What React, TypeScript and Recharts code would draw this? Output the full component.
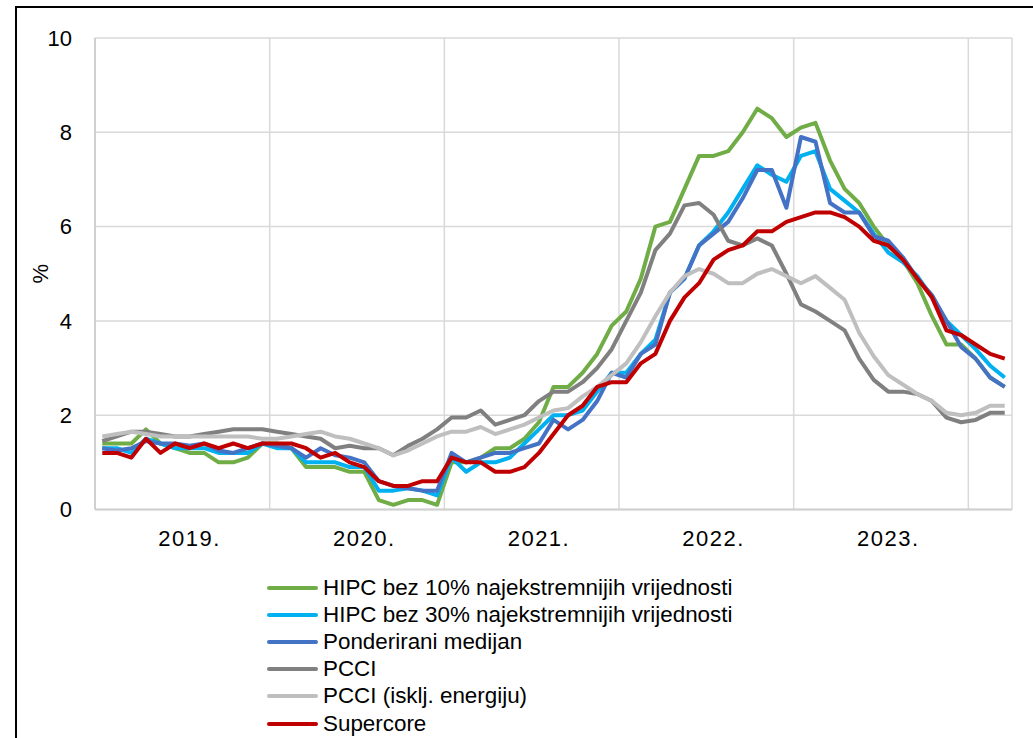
import React from "react";
import { LineChart, Line, XAxis, YAxis, CartesianGrid } from "recharts";

// monthly, Jan 2019 - Mar 2024 (y/y, %)
const yearLabels = ["2019.", "2020.", "2021.", "2022.", "2023."];

const hipc10 = [
  1.4, 1.4, 1.4, 1.7, 1.4, 1.3, 1.2, 1.2, 1.0, 1.0, 1.1, 1.4,
  1.4, 1.3, 0.9, 0.9, 0.9, 0.8, 0.8, 0.2, 0.1, 0.2, 0.2, 0.1,
  1.0, 1.0, 1.1, 1.3, 1.3, 1.5, 1.85, 2.6, 2.6, 2.9, 3.3, 3.9,
  4.2, 4.9, 6.0, 6.1, 6.8, 7.5, 7.5, 7.6, 8.0, 8.5, 8.3, 7.9,
  8.1, 8.2, 7.4, 6.8, 6.5, 6.0, 5.6, 5.3, 4.8, 4.1, 3.5, 3.5,
  3.2, 2.8, 2.6,
];
const hipc30 = [
  1.3, 1.3, 1.2, 1.5, 1.4, 1.3, 1.3, 1.3, 1.2, 1.2, 1.2, 1.4,
  1.3, 1.3, 1.0, 1.0, 1.0, 0.9, 0.9, 0.4, 0.4, 0.45, 0.4, 0.3,
  1.1, 0.8, 1.0, 1.0, 1.1, 1.4, 1.7, 2.0, 2.0, 2.1, 2.5, 2.9,
  2.9, 3.3, 3.6, 4.6, 4.9, 5.6, 5.9, 6.3, 6.8, 7.3, 7.1, 6.95,
  7.5, 7.6, 6.8, 6.55, 6.3, 5.85, 5.45, 5.25, 4.95, 4.5, 4.0, 3.7,
  3.4, 3.05, 2.8,
];
const median = [
  1.3, 1.25, 1.3, 1.45, 1.4, 1.4, 1.35, 1.4, 1.25, 1.2, 1.3, 1.4,
  1.35, 1.3, 1.1, 1.3, 1.15, 1.1, 1.0, 0.6, 0.5, 0.45, 0.4, 0.4,
  1.2, 1.0, 1.1, 1.2, 1.2, 1.3, 1.4, 1.9, 1.7, 1.9, 2.3, 2.9,
  2.8, 3.3, 3.5, 4.6, 4.9, 5.6, 5.85, 6.1, 6.6, 7.2, 7.2, 6.4,
  7.9, 7.8, 6.5, 6.3, 6.3, 5.8, 5.7, 5.35, 4.9, 4.55, 4.0, 3.45,
  3.2, 2.8, 2.6,
];
const pcci = [
  1.45, 1.55, 1.65, 1.65, 1.6, 1.55, 1.55, 1.6, 1.65, 1.7, 1.7, 1.7,
  1.65, 1.6, 1.55, 1.5, 1.3, 1.35, 1.3, 1.3, 1.15, 1.35, 1.5, 1.7,
  1.95, 1.95, 2.1, 1.8, 1.9, 2.0, 2.3, 2.5, 2.5, 2.7, 3.0, 3.4,
  4.0, 4.6, 5.5, 5.85, 6.45, 6.5, 6.25, 5.7, 5.6, 5.75, 5.6, 5.0,
  4.35, 4.2, 4.0, 3.8, 3.2, 2.75, 2.5, 2.5, 2.45, 2.3, 1.95, 1.85,
  1.9, 2.05, 2.05,
];
const pcciExEnergy = [
  1.55, 1.6, 1.65, 1.6, 1.55, 1.55, 1.55, 1.55, 1.55, 1.55, 1.55, 1.5,
  1.5, 1.55, 1.6, 1.65, 1.55, 1.5, 1.4, 1.3, 1.15, 1.25, 1.4, 1.55,
  1.65, 1.65, 1.75, 1.6, 1.7, 1.8, 1.95, 2.1, 2.15, 2.4, 2.6, 2.85,
  3.1, 3.55, 4.1, 4.6, 4.95, 5.1, 5.0, 4.8, 4.8, 5.0, 5.1, 4.95,
  4.8, 4.95, 4.7, 4.45, 3.75, 3.25, 2.85, 2.65, 2.45, 2.3, 2.05, 2.0,
  2.05, 2.2, 2.2,
];
const supercore = [
  1.2, 1.2, 1.1, 1.5, 1.2, 1.4, 1.3, 1.4, 1.3, 1.4, 1.3, 1.4,
  1.4, 1.4, 1.3, 1.1, 1.2, 1.0, 0.9, 0.6, 0.5, 0.5, 0.6, 0.6,
  1.1, 1.0, 1.0, 0.8, 0.8, 0.9, 1.2, 1.6, 2.0, 2.2, 2.6, 2.7,
  2.7, 3.1, 3.3, 4.0, 4.5, 4.8, 5.3, 5.5, 5.6, 5.9, 5.9, 6.1,
  6.2, 6.3, 6.3, 6.2, 6.0, 5.7, 5.6, 5.3, 4.9, 4.5, 3.8, 3.7,
  3.5, 3.3, 3.2,
];

const yTicks = [0, 2, 4, 6, 8, 10];

const series = [
  { key: "hipc10", name: "HIPC bez 10% najekstremnijih vrijednosti", color: "#70ad47", values: hipc10 },
  { key: "hipc30", name: "HIPC bez 30% najekstremnijih vrijednosti", color: "#00b0f0", values: hipc30 },
  { key: "median", name: "Ponderirani medijan", color: "#4472c4", values: median },
  { key: "pcci", name: "PCCI", color: "#808080", values: pcci },
  { key: "pcciEx", name: "PCCI (isklj. energiju)", color: "#bfbfbf", values: pcciExEnergy },
  { key: "supercore", name: "Supercore", color: "#c00000", values: supercore },
];

const monthCount = supercore.length;

// each month sits in the middle of its slot on a 0..monthCount axis
const data = supercore.map((_, i) => {
  const row: Record<string, number> = { pos: i + 0.5 };
  series.forEach((s) => {
    row[s.key] = s.values[i];
  });
  return row;
});

// year label sits under July of each year, gridlines at year boundaries
const labelTicks = yearLabels.map((_, k) => k * 12 + 6.5);
const boundaryTicks = [12, 24, 36, 48, 60, monthCount];

const font = "'Liberation Sans', Arial, sans-serif";

export default function App() {
  return (
    <div
      style={{
        position: "absolute",
        left: 0,
        top: 0,
        width: 1033,
        height: 738,
        background: "#fff",
        fontFamily: font,
        overflow: "hidden",
      }}
    >
      <div
        style={{
          position: "absolute",
          left: 15,
          top: 6,
          width: 1100,
          height: 800,
          borderTop: "2px solid #000",
          borderLeft: "2px solid #000",
        }}
      />
      <div style={{ position: "absolute", left: 0, top: 0 }}>
        <LineChart
          width={1033}
          height={738}
          data={data}
          margin={{ top: 38, right: 21, bottom: 198.5, left: 35 }}
        >
          <CartesianGrid
            xAxisId="grid"
            stroke="#d9d9d9"
            strokeWidth={1.5}
          />
          <XAxis
            xAxisId="grid"
            dataKey="pos"
            type="number"
            domain={[0, monthCount]}
            ticks={boundaryTicks}
            hide
          />
          <XAxis
            dataKey="pos"
            type="number"
            domain={[0, monthCount]}
            ticks={labelTicks}
            tickFormatter={(v: number) => yearLabels[Math.floor(v / 12)]}
            interval={0}
            height={30}
            tickLine={false}
            tickMargin={15}
            axisLine={{ stroke: "#d0d0d0", strokeWidth: 2 }}
            tick={{ fill: "#000", fontSize: 22, fontFamily: font, letterSpacing: 1.5 }}
          />
          <YAxis
            domain={[0, 10]}
            ticks={yTicks}
            width={60}
            tickLine={false}
            tickMargin={17}
            axisLine={{ stroke: "#d0d0d0", strokeWidth: 2 }}
            tick={{ fill: "#000", fontSize: 22, fontFamily: font }}
            label={{
              value: "%",
              angle: -90,
              position: "insideLeft",
              offset: 5,
              style: { textAnchor: "middle", fill: "#000", fontSize: 22, fontFamily: font },
            }}
          />
          {series.map((s) => (
            <Line
              key={s.key}
              xAxisId={0}
              dataKey={s.key}
              name={s.name}
              stroke={s.color}
              strokeWidth={4}
              strokeLinejoin="round"
              dot={false}
              activeDot={false}
              isAnimationActive={false}
            />
          ))}
        </LineChart>
      </div>
      <div style={{ position: "absolute", left: 267, top: 574 }}>
        {series.map((s) => (
          <div
            key={s.key}
            style={{ display: "flex", alignItems: "center", height: 27.2 }}
          >
            <div
              style={{
                width: 51,
                height: 4,
                borderRadius: 2,
                background: s.color,
                marginRight: 5,
              }}
            />
            <span style={{ fontSize: 22.4, color: "#000", whiteSpace: "nowrap" }}>
              {s.name}
            </span>
          </div>
        ))}
      </div>
    </div>
  );
}
